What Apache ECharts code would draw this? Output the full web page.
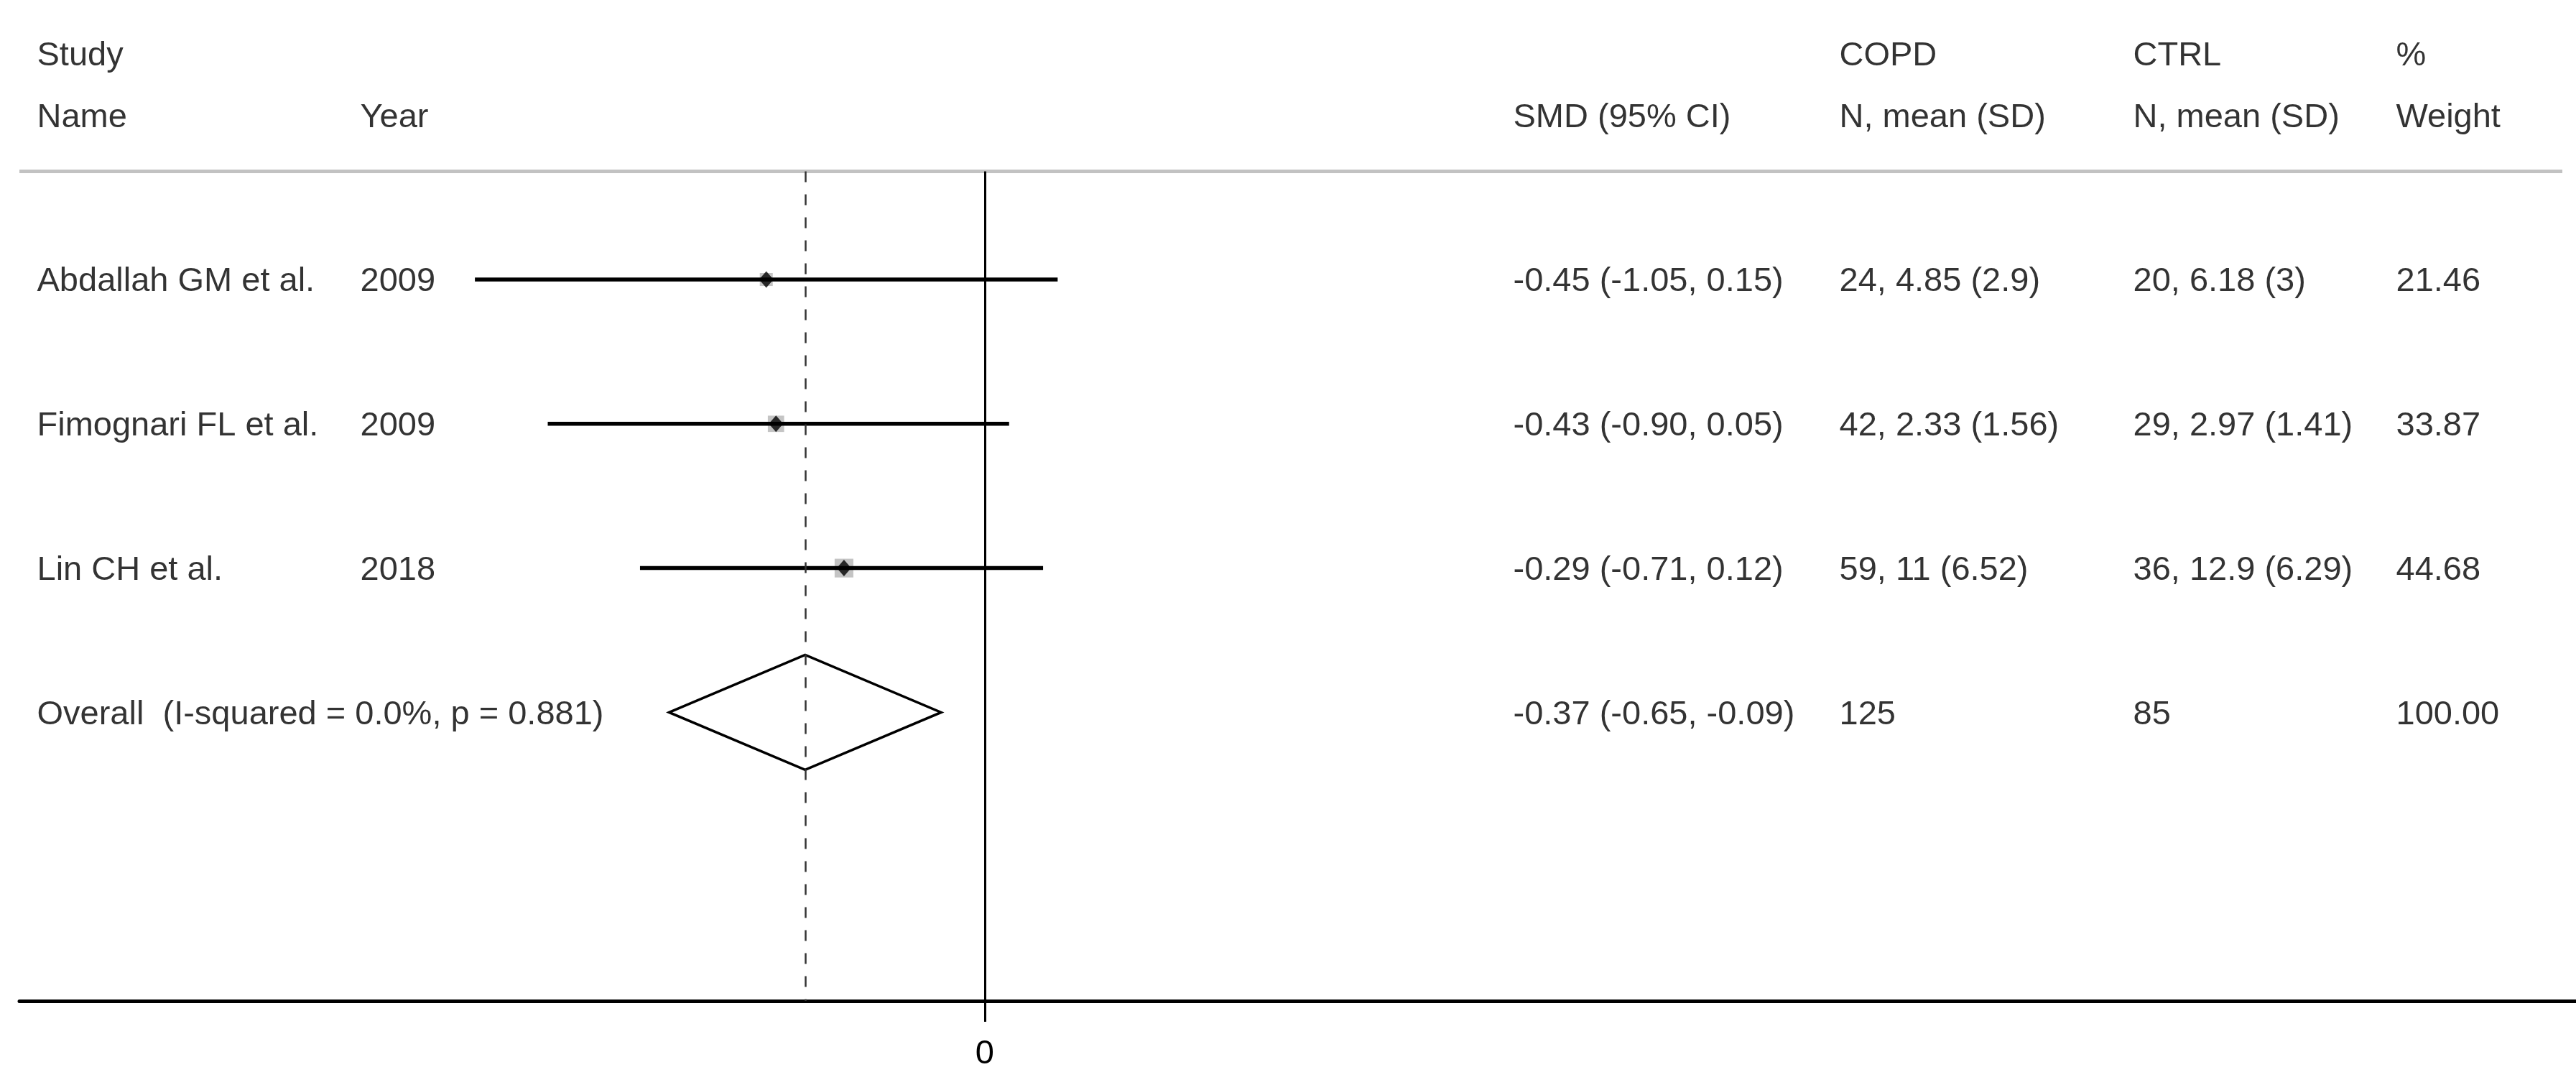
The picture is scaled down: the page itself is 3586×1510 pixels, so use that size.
<!DOCTYPE html>
<html>
<head>
<meta charset="utf-8">
<title>Forest plot</title>
<script src="https://cdn.jsdelivr.net/npm/echarts@6.0.0/dist/echarts.min.js"></script>
<style>
  html, body { margin: 0; padding: 0; background: #fff; }
  #chart { width: 3586px; height: 1510px; }
</style>
</head>
<body>
<div id="chart"></div>
<script>
// study rows
const studyNames = ['Abdallah GM et al.', 'Fimognari FL et al.', 'Lin CH et al.'];
const studyYears = ['2009', '2009', '2018'];
const smd = [-0.45, -0.43, -0.29];
const ciLow = [-1.05, -0.90, -0.71];
const ciHigh = [0.15, 0.05, 0.12];
const copdN = [24, 42, 59];
const copdMean = [4.85, 2.33, 11];
const copdSD = [2.9, 1.56, 6.52];
const ctrlN = [20, 29, 36];
const ctrlMean = [6.18, 2.97, 12.9];
const ctrlSD = [3, 1.41, 6.29];
const weights = [21.46, 33.87, 44.68];

// pooled estimate
const overallLabel = 'Overall  (I-squared = 0.0%, p = 0.881)';
const overallSmd = -0.37;
const overallLow = -0.65;
const overallHigh = -0.09;
const overallCopdN = 125;
const overallCtrlN = 85;
const overallWeight = 100;

// column headings
const headTop = { name: 'Study', copd: 'COPD', ctrl: 'CTRL', weight: '%' };
const headBottom = { name: 'Name', year: 'Year', smd: 'SMD (95% CI)', copd: 'N, mean (SD)', ctrl: 'N, mean (SD)', weight: 'Weight' };

const xTicks = [0];

// layout
const FONT = "'Liberation Sans', Arial, sans-serif";
const FS = 47;
const X_MIN = -1.988, X_MAX = 3.2766;
const RULE_X_MAX = 3.2485;
const Y_MIN = -0.9, Y_MAX = 6;
const GRID_TOP = 7.5, GRID_BOTTOM = 117;
const RULE_Y = 0.25, HEAD1_Y = -0.564, HEAD2_Y = -0.14;
const COLS = { name: 52, year: 502, smd: 2107, copd: 2561, ctrl: 2970, weight: 3336 };
const BOX_K = 3.9;      // grey box side per sqrt(weight)
const DIAMOND_H = 80;   // half height of pooled diamond, px

const fmt2 = (v) => v.toFixed(2);
const ciText = (e, lo, hi) => `${fmt2(e)} (${fmt2(lo)}, ${fmt2(hi)})`;
const groupText = (n, m, s) => `${n}, ${m} (${s})`;

const overallRow = studyNames.length + 1;

// text per column: [text, row]
const columns = {
  name: [[headTop.name, HEAD1_Y], [headBottom.name, HEAD2_Y],
    ...studyNames.map((t, i) => [t, i + 1]), [overallLabel, overallRow]],
  year: [[headBottom.year, HEAD2_Y], ...studyYears.map((t, i) => [t, i + 1])],
  smd: [[headBottom.smd, HEAD2_Y],
    ...smd.map((e, i) => [ciText(e, ciLow[i], ciHigh[i]), i + 1]),
    [ciText(overallSmd, overallLow, overallHigh), overallRow]],
  copd: [[headTop.copd, HEAD1_Y], [headBottom.copd, HEAD2_Y],
    ...copdN.map((n, i) => [groupText(n, copdMean[i], copdSD[i]), i + 1]),
    [String(overallCopdN), overallRow]],
  ctrl: [[headTop.ctrl, HEAD1_Y], [headBottom.ctrl, HEAD2_Y],
    ...ctrlN.map((n, i) => [groupText(n, ctrlMean[i], ctrlSD[i]), i + 1]),
    [String(overallCtrlN), overallRow]],
  weight: [[headTop.weight, HEAD1_Y], [headBottom.weight, HEAD2_Y],
    ...weights.map((w, i) => [fmt2(w), i + 1]), [fmt2(overallWeight), overallRow]],
};

const chart = echarts.init(document.getElementById('chart'), null, { renderer: 'canvas' });

const grids = [{ left: 27, right: 0, top: GRID_TOP, bottom: GRID_BOTTOM, outerBoundsMode: 'none' }];
const xAxes = [{
  type: 'value', gridIndex: 0, min: X_MIN, max: X_MAX,
  splitLine: { show: false },
  axisLine: { show: true, onZero: false, lineStyle: { color: '#000', width: 5 } },
  axisTick: { show: true, customValues: xTicks, length: 29, lineStyle: { color: '#000', width: 3 } },
  axisLabel: { show: true, customValues: xTicks, color: '#000', fontSize: FS, fontFamily: FONT, margin: 51 },
}];
const yAxis0 = { type: 'value', min: Y_MIN, max: Y_MAX, inverse: true, show: false, splitLine: { show: false } };
const yAxes = [{ ...yAxis0, gridIndex: 0 }];
const series = [];

// CI lines with weight boxes
series.push({
  type: 'custom',
  xAxisIndex: 0, yAxisIndex: 0,
  z: 3,
  data: smd.map((e, i) => [ciLow[i], ciHigh[i], e, i + 1, weights[i]]),
  encode: { x: [0, 1, 2], y: 3 },
  renderItem: (params, api) => {
    const y = api.value(3);
    const a = api.coord([api.value(0), y]);
    const b = api.coord([api.value(1), y]);
    const c = api.coord([api.value(2), y]);
    const side = BOX_K * Math.sqrt(api.value(4));
    return {
      type: 'group',
      children: [
        { type: 'rect', shape: { x: c[0] - side / 2, y: c[1] - side / 2, width: side, height: side }, style: { fill: '#c4c4c4' } },
        { type: 'line', shape: { x1: a[0], y1: a[1], x2: b[0], y2: b[1] }, style: { stroke: '#000', lineWidth: 5.5 } },
      ],
    };
  },
});

// pooled diamond (no fill, the dashed line shows through)
series.push({
  type: 'custom',
  xAxisIndex: 0, yAxisIndex: 0,
  z: 3,
  data: [[overallLow, overallHigh, overallSmd, overallRow]],
  encode: { x: [0, 1, 2], y: 3 },
  renderItem: (params, api) => {
    const y = api.value(3);
    const l = api.coord([api.value(0), y]);
    const h = api.coord([api.value(1), y]);
    const c = api.coord([api.value(2), y]);
    return {
      type: 'polygon',
      shape: { points: [[l[0], c[1]], [c[0], c[1] - DIAMOND_H], [h[0], c[1]], [c[0], c[1] + DIAMOND_H]] },
      style: { fill: 'none', stroke: '#000', lineWidth: 3.5 },
    };
  },
});

// point estimates + reference lines
series.push({
  type: 'scatter',
  xAxisIndex: 0, yAxisIndex: 0,
  z: 4,
  symbol: 'diamond',
  symbolSize: [20, 23],
  itemStyle: { color: '#000' },
  data: smd.map((e, i) => [e, i + 1]),
  markLine: {
    silent: true,
    symbol: ['none', 'none'],
    label: { show: false },
    animation: false,
    data: [
      [{ coord: [X_MIN, RULE_Y], lineStyle: { color: '#c2c2c2', width: 5, type: 'solid' } }, { coord: [RULE_X_MAX, RULE_Y] }],
      [{ coord: [0, RULE_Y], lineStyle: { color: '#000', width: 3, type: 'solid' } }, { coord: [0, Y_MAX] }],
      [{ coord: [overallSmd, RULE_Y], lineStyle: { color: '#333', width: 2.5, type: [15, 17] } }, { coord: [overallSmd, Y_MAX] }],
    ],
  },
});

// table columns, one narrow grid each
Object.keys(COLS).forEach((key, k) => {
  const gi = k + 1;
  grids.push({ left: COLS[key], width: 10, top: GRID_TOP, bottom: GRID_BOTTOM, outerBoundsMode: 'none' });
  xAxes.push({ type: 'value', gridIndex: gi, min: 0, max: 1, show: false, splitLine: { show: false } });
  yAxes.push({ ...yAxis0, gridIndex: gi });
  series.push({
    type: 'scatter',
    xAxisIndex: gi, yAxisIndex: gi,
    symbolSize: 1,
    clip: false,
    itemStyle: { color: 'rgba(0,0,0,0)' },
    data: columns[key].map(([t, r]) => ({ value: [0, r], name: t })),
    label: {
      show: true,
      position: [0, 0],
      offset: [0, 4],
      align: 'left',
      verticalAlign: 'middle',
      formatter: '{b}',
      color: '#000',
      fontSize: FS,
      fontFamily: FONT,
    },
  });
});

chart.setOption({
  animation: false,
  backgroundColor: '#fff',
  grid: grids,
  xAxis: xAxes,
  yAxis: yAxes,
  series,
});
</script>
</body>
</html>
